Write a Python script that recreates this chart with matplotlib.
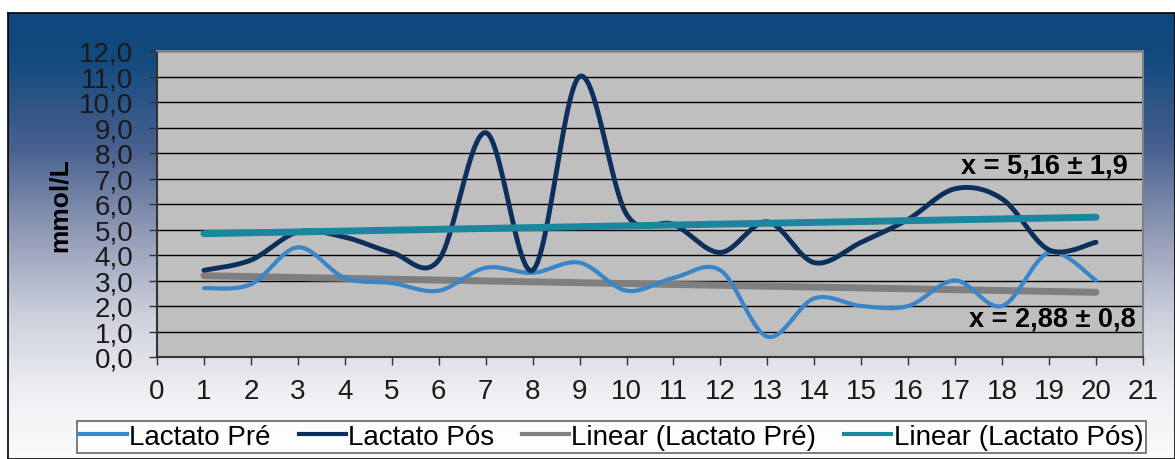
import numpy as np
import matplotlib
matplotlib.use("Agg")
import matplotlib.pyplot as plt
from matplotlib.colors import LinearSegmentedColormap
from matplotlib.lines import Line2D

plt.rcParams['font.family'] = ['Liberation Sans', 'DejaVu Sans']

# ---- data ----
x_values = list(range(1, 21))
lactato_pre = [2.7, 2.85, 4.3, 3.1, 2.9, 2.6, 3.5, 3.3, 3.7, 2.6,
               3.1, 3.4, 0.8, 2.3, 2.0, 2.0, 3.0, 2.0, 4.1, 3.0]
lactato_pos = [3.4, 3.8, 4.9, 4.7, 4.1, 3.8, 8.8, 3.4, 11.0, 5.6,
               5.2, 4.1, 5.3, 3.7, 4.5, 5.4, 6.6, 6.2, 4.2, 4.5]
y_ticks = [0, 1, 2, 3, 4, 5, 6, 7, 8, 9, 10, 11, 12]
x_ticks = list(range(0, 22))
legend_labels = ["Lactato Pré", "Lactato Pós", "Linear (Lactato Pré)", "Linear (Lactato Pós)"]
note_pos = "x = 5,16 ± 1,9"
note_pre = "x = 2,88 ± 0,8"


def smooth(xs, ys, n=30):
    xs = np.asarray(xs, float)
    ys = np.asarray(ys, float)
    P = np.column_stack([xs, ys])
    out = []
    m = len(P)
    for i in range(m - 1):
        p0 = P[i - 1] if i > 0 else P[i]
        p1 = P[i]
        p2 = P[i + 1]
        p3 = P[i + 2] if i + 2 < m else P[i + 1]
        c1 = p1 + (p2 - p0) / 6.0
        c2 = p2 - (p3 - p1) / 6.0
        t = np.linspace(0, 1, n)[:, None]
        seg = ((1 - t) ** 3) * p1 + 3 * ((1 - t) ** 2) * t * c1 + 3 * (1 - t) * t ** 2 * c2 + t ** 3 * p2
        out.append(seg if i == 0 else seg[1:])
    S = np.vstack(out)
    return S[:, 0], S[:, 1]


W, H = 1175, 460
fig = plt.figure(figsize=(W / 100, H / 100), dpi=100)
fig.patch.set_facecolor('white')

# background frame with gradient
bg = fig.add_axes([8 / W, 0, 1 - 8 / W, 1 - 14 / H])
cmap = LinearSegmentedColormap.from_list('bg', [
    (0.0, '#0d4780'), (0.10, '#134a7e'), (0.30, '#47608f'),
    (0.50, '#949db8'), (0.68, '#cdd0dc'), (0.85, '#eeeff3'), (1.0, '#fbfbfc')])
grad = np.linspace(0, 1, 256)[:, None]
bg.imshow(grad, aspect='auto', cmap=cmap, extent=[0, 1, 0, 1], origin='upper')
bg.set_xticks([]); bg.set_yticks([])
for s in bg.spines.values():
    s.set_color('black'); s.set_linewidth(1.2)
bg.set_zorder(0)

ax = fig.add_axes([157 / W, 1 - 358 / H, (1143 - 157) / W, (358 - 52) / H])
ax.set_facecolor('#bfbfbf')
ax.set_xlim(0, 21)
ax.set_ylim(0, 12)
ax.set_yticks(y_ticks)
ax.set_yticklabels([f"{v:.1f}".replace('.', ',') for v in y_ticks], fontsize=20, color='#1a1a1a')
ax.set_xticks(x_ticks)
ax.set_xticklabels([str(v) for v in x_ticks], fontsize=20, color='#1a1a1a')
ax.tick_params(axis='both', direction='out', length=6, width=1, color='#333333')
ax.tick_params(axis='x', pad=9)
ax.tick_params(axis='y', pad=11)
ax.grid(axis='y', color='black', linewidth=1.0)
ax.set_axisbelow(True)
for s in ax.spines.values():
    s.set_color('#808080'); s.set_linewidth(1.5)
ax.spines['left'].set_color('#333333')
ax.spines['bottom'].set_color('#333333')
ax.set_ylabel('mmol/L', fontsize=19, fontweight='bold', labelpad=5)

c_pre = '#3a86c8'
c_pos = '#0c2f5c'
c_lpre = '#7f7f7f'
c_lpos = '#1a879e'

xs, ys = smooth(x_values, lactato_pre)
ax.plot(xs, ys, color=c_pre, lw=3, solid_capstyle='round', zorder=4)
xs, ys = smooth(x_values, lactato_pos)
ax.plot(xs, ys, color=c_pos, lw=3.5, solid_capstyle='round', zorder=5)

xv = np.array(x_values, float)
b_pre = np.polyfit(xv, lactato_pre, 1)
b_pos = np.polyfit(xv, lactato_pos, 1)
ax.plot(xv, np.polyval(b_pre, xv), color=c_lpre, lw=5, solid_capstyle='round', zorder=3)
ax.plot(xv, np.polyval(b_pos, xv), color=c_lpos, lw=5, solid_capstyle='round', zorder=6)

ax.text(20.68, 7.5, note_pos, fontsize=19.5, fontweight='bold', ha='right', va='center', zorder=7)
ax.text(20.85, 1.5, note_pre, fontsize=19.5, fontweight='bold', ha='right', va='center', zorder=7)

handles = [Line2D([], [], color=c, lw=3) for c in (c_pre, c_pos, c_lpre, c_lpos)]
leg = fig.legend(handles, legend_labels, loc='center', ncol=4,
                 bbox_to_anchor=((75 + 1148) / 2 / W, 1 - 438 / H),
                 fontsize=20, frameon=True, fancybox=False, handlelength=1.7,
                 handletextpad=0.08, columnspacing=1.0, borderpad=0.1,
                 borderaxespad=0)
leg.get_frame().set_edgecolor('#404040')
leg.get_frame().set_linewidth(1.2)
leg.get_frame().set_facecolor('white')

fig.savefig('out.png', dpi=100)
